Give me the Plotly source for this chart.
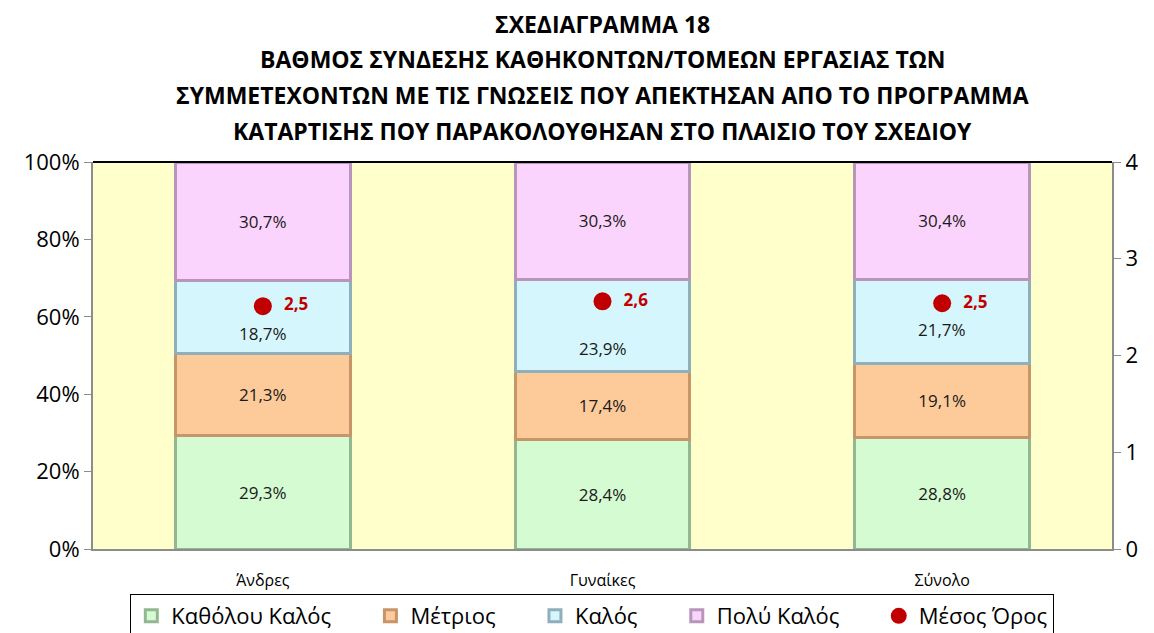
import plotly.graph_objects as go

categories = ["Άνδρες", "Γυναίκες", "Σύνολο"]
series_names = ["Καθόλου Καλός", "Μέτριος", "Καλός", "Πολύ Καλός"]
katholou = [29.3, 28.4, 28.8]
metrios = [21.3, 17.4, 19.1]
kalos = [18.7, 23.9, 21.7]
poly_kalos = [30.7, 30.3, 30.4]
mean_values = [2.51, 2.56, 2.54]
mean_name = "Μέσος Όρος"

fills = ["#d5fbd3", "#fdca9a", "#d6f6fd", "#fad4fc"]
edges = ["#93b891", "#c7956a", "#8fb0bb", "#b895bb"]
# vertical nudges (px) of the "Καλός" labels, as placed in the original
kalos_label_shift = [-17, -23, -8]

title_lines = [
    "ΣΧΕΔΙΑΓΡΑΜΜΑ 18",
    "ΒΑΘΜΟΣ ΣΥΝΔΕΣΗΣ ΚΑΘΗΚΟΝΤΩΝ/ΤΟΜΕΩΝ ΕΡΓΑΣΙΑΣ ΤΩΝ",
    "ΣΥΜΜΕΤΕΧΟΝΤΩΝ ΜΕ ΤΙΣ ΓΝΩΣΕΙΣ ΠΟΥ ΑΠΕΚΤΗΣΑΝ ΑΠΟ ΤΟ ΠΡΟΓΡΑΜΜΑ",
    "ΚΑΤΑΡΤΙΣΗΣ ΠΟΥ ΠΑΡΑΚΟΛΟΥΘΗΣΑΝ ΣΤΟ ΠΛΑΙΣΙΟ ΤΟΥ ΣΧΕΔΙΟΥ",
]

FONT = "Open Sans"
OFF = 8  # page body margin
W, H = 1154 - OFF, 633 - OFF
ML, MR, MT, MB = 93 - OFF, 42, 162 - OFF, 84
PH = H - MT - MB

def pct(v):
    return f"{v:.1f}".replace(".", ",") + "%"

fig = go.Figure()
all_series = [katholou, metrios, kalos, poly_kalos]
for name, vals, fc, ec in zip(series_names, all_series, fills, edges):
    is_kalos = name == "Καλός"
    fig.add_trace(go.Bar(
        x=categories, y=[v / 100 for v in vals], name=name + "\u00a0" * 6,
        marker=dict(color=fc, line=dict(color=ec, width=3)),
        text=None if is_kalos else [pct(v) for v in vals],
        textposition="inside", insidetextanchor="middle",
        textfont=dict(size=17, color="#1a1a1a", family=FONT),
        width=0.515, hoverinfo="skip",
    ))

# Καλός labels (nudged like in the original)
for j, cat in enumerate(categories):
    base = (katholou[j] + metrios[j]) / 100
    fig.add_annotation(
        x=cat, y=base + kalos[j] / 200, xref="x", yref="y",
        text=pct(kalos[j]), showarrow=False, yshift=kalos_label_shift[j],
        font=dict(size=17, color="#1a1a1a", family=FONT),
    )

fig.add_trace(go.Scatter(
    x=categories, y=mean_values, name=mean_name, yaxis="y2",
    mode="markers+text",
    marker=dict(size=18, color="#c00000"),
    text=["  " + f"{v:.1f}".replace(".", ",") for v in mean_values],
    textposition="middle right",
    textfont=dict(size=17, color="#c00000", family=FONT),
    texttemplate="<b>%{text}</b>",
))

title_y_px = [24, 59, 95, 131]
for line, ypx in zip(title_lines, title_y_px):
    fig.add_annotation(
        x=0.5, xref="paper", y=1 + (MT - (ypx - OFF)) / PH, yref="paper",
        xanchor="center", yanchor="middle", showarrow=False, borderpad=0,
        text=f"<b>{line}</b>",
        font=dict(size=23, family=FONT, color="#000000"),
    )

fig.update_layout(
    width=W, height=H,
    barmode="stack",
    paper_bgcolor="white",
    plot_bgcolor="#ffffcc",
    margin=dict(l=ML, r=MR, t=MT, b=MB, autoexpand=False),
    font=dict(family=FONT, color="#000000"),
    xaxis=dict(
        showline=True, linecolor="#8c8c8c", linewidth=2,
        ticks="", ticklabelstandoff=16,
        tickfont=dict(size=16, family=FONT, color="#000000"),
        showgrid=False, range=[-0.5, 2.5],
    ),
    yaxis=dict(
        range=[0, 1], dtick=0.2, tickformat=".0%",
        showline=True, linecolor="#8c8c8c", linewidth=2,
        ticks="outside", ticklen=7, tickcolor="#8c8c8c",
        tickfont=dict(size=22, family=FONT, color="#000000"),
        showgrid=False, zeroline=False,
    ),
    yaxis2=dict(
        range=[0, 4], dtick=1, overlaying="y", side="right",
        showline=True, linecolor="#8c8c8c", linewidth=2,
        ticks="outside", ticklen=7, tickcolor="#8c8c8c",
        tickfont=dict(size=22, family=FONT, color="#000000"),
        showgrid=False, zeroline=False,
    ),
    legend=dict(
        orientation="h", traceorder="normal",
        x=0.49, xanchor="center", xref="paper",
        y=(H - (594 - OFF)) / H, yanchor="top", yref="container",
        bordercolor="#000000", borderwidth=1,
        font=dict(size=22, family=FONT, color="#000000"),
        itemwidth=30,
    ),
    showlegend=True,
)
fig.add_shape(type="line", xref="paper", yref="paper", x0=0, x1=1, y0=1, y1=1,
              line=dict(color="#000000", width=2))

fig.write_html("out.html")
